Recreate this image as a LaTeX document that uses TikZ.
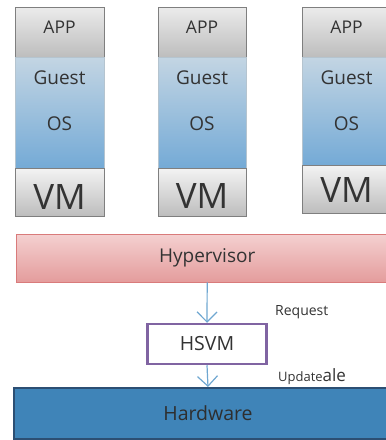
\documentclass[tikz,border=0pt]{standalone}
\usepackage{fontspec}
\setmainfont{Open Sans}
\usetikzlibrary{arrows.meta}
\definecolor{txt}{HTML}{333333}
\definecolor{colborder}{HTML}{7F7F7F}
\definecolor{grayA}{HTML}{EBEBEB}
\definecolor{grayB}{HTML}{BDBDBD}
\definecolor{blueA}{HTML}{C3D5E3}
\definecolor{blueB}{HTML}{74AAD6}
\definecolor{pinkA}{HTML}{F4D0D0}
\definecolor{pinkB}{HTML}{E49C9C}
\definecolor{pinkD}{HTML}{D97B7B}
\definecolor{purp}{HTML}{8064A2}
\definecolor{hwfill}{HTML}{3F84B8}
\definecolor{hwdraw}{HTML}{2C4F73}
\definecolor{arrc}{HTML}{6FA7D1}
\tikzset{
  box/.style={anchor=north west, inner sep=0pt, minimum width=89pt},
  appbox/.style={box, draw=colborder, top color=grayA, bottom color=grayB, minimum height=50pt},
  guestbox/.style={box, draw=blueA!80!colborder, top color=blueA, bottom color=blueB},
  vmbox/.style={box, draw=colborder, top color=grayA!60!white, bottom color=grayB},
  lbl/.style={text=txt, inner sep=0pt},
  arr/.style={draw=arrc, line width=1.2pt, -{Straight Barb[length=10pt,width=20pt,line width=1.2pt]}}
}
\begin{document}
\begin{tikzpicture}[x=1pt,y=-1pt]
\useasboundingbox (0,0) rectangle (386,440);
\clip (0,0) rectangle (386,440);
% column 1
\node[appbox] (app1) at (15,7) {};
\node[guestbox, minimum height=111pt] (g1) at (15,57) {};
\node[vmbox, minimum height=48pt] (vm1) at (15,168) {};
% column 2
\node[appbox, minimum width=88pt] (app2) at (158,7) {};
\node[guestbox, minimum width=88pt, minimum height=111pt] (g2) at (158,57) {};
\node[vmbox, minimum width=88pt, minimum height=48pt] (vm2) at (158,168) {};
% column 3
\node[appbox] (app3) at (302,7) {};
\node[guestbox, minimum height=108pt] (g3) at (302,57) {};
\node[vmbox, minimum height=48pt] (vm3) at (302,165) {};
% labels in columns
\foreach \c/\x in {1/59.5, 2/202, 3/346.5}{
  \node[lbl, font=\fontsize{17.5}{17.5}\selectfont] (tapp\c) at (\x,27) {APP};
  \node[lbl, font=\fontsize{19}{19}\selectfont] (tguest\c) at (\x,78) {Guest};
  \node[lbl, font=\fontsize{19}{19}\selectfont] (tos\c) at (\x,124) {OS};
}
\node[lbl, font=\fontsize{35}{35}\selectfont] (tvm1) at (59.5,197) {VM};
\node[lbl, font=\fontsize{35}{35}\selectfont] (tvm2) at (202,196) {VM};
\node[lbl, font=\fontsize{35}{35}\selectfont] (tvm3) at (346.5,190) {VM};
% hypervisor
\node[anchor=north west, inner sep=0pt, minimum width=382pt, minimum height=48pt,
      draw=pinkD, top color=pinkA, bottom color=pinkB,
      text=txt, font=\fontsize{19}{19}\selectfont] (hyp) at (16,234) {Hypervisor};
% HSVM
\node[draw=purp, line width=2.5pt, fill=white, minimum width=119pt, minimum height=40pt,
      inner sep=0pt, text=txt, font=\fontsize{19.5}{19.5}\selectfont] (hsvm) at (207,344) {HSVM};
% hardware
\node[anchor=north west, inner sep=0pt, minimum width=388pt, minimum height=51pt,
      draw=hwdraw, line width=2pt, fill=hwfill,
      text=txt!90!black, font=\fontsize{19.5}{19.5}\selectfont] (hw) at (13,387) {Hardware};
% arrows
\draw[arr] (hyp.south) -- (hsvm.north);
\draw[arr] (hsvm.south) -- (hw.north);
% side labels
\node[lbl, anchor=west, font=\fontsize{14}{14}\selectfont] (req) at (275,312) {Request};
\node[lbl, anchor=west, font=\fontsize{13}{13}\selectfont] (upd) at (278,377) {Update{\fontsize{17}{17}\selectfont ale}};
\end{tikzpicture}
\end{document}
